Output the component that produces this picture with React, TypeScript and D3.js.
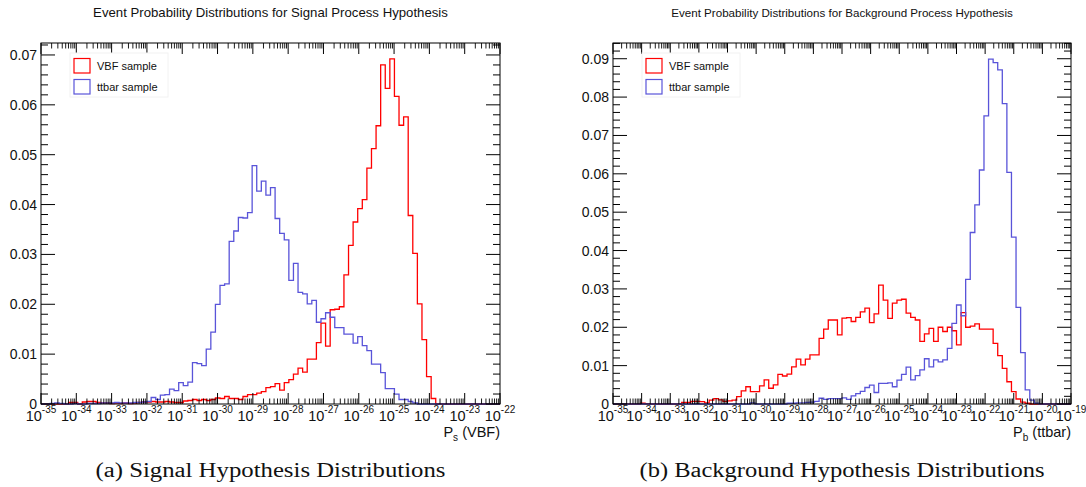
import React from 'react';
import * as d3 from 'd3';

const width = 1086;
const height = 487;
const frameTop = 43;
const frameBottom = 404;
const red = '#ff0000';
const blue = '#5954d9';
const sans = '"Liberation Sans", Arial, Helvetica, sans-serif';
const serif = '"Liberation Serif", "Times New Roman", serif';

// bin contents, 100 log-spaced bins across each x axis
const signalVbf = [
  0, 0, 0, 0, 0, 0, 0.0003, 0.0003, 0, 0.0004,
  0.0005, 0.0005, 0.0003, 0.0002, 0.0002, 0.0001, 0.0002, 0.0001, 0.0002, 0.0001,
  0.0002, 0.0003, 0.0004, 0.0004, 0.0005, 0.0004, 0.0004, 0.0005, 0.0004, 0.0003,
  0.0003, 0.0006, 0.0007, 0.0009, 0.0007, 0.0009, 0.0007, 0.0009, 0.0012, 0.0011,
  0.0015, 0.0011, 0.0011, 0.0009, 0.0015, 0.0019, 0.0019, 0.0022, 0.0025, 0.0033,
  0.0035, 0.0041, 0.0028, 0.0043, 0.0049, 0.006, 0.0072, 0.0064, 0.009, 0.009,
  0.0123, 0.0162, 0.0116, 0.0189, 0.019, 0.0195, 0.0259, 0.0318, 0.0365, 0.0392,
  0.041, 0.0473, 0.0512, 0.0558, 0.068, 0.0633, 0.0692, 0.0617, 0.0559, 0.0576,
  0.0378, 0.0302, 0.0201, 0.0129, 0.0055, 0.0011, 0, 0, 0, 0,
  0, 0, 0, 0, 0, 0, 0, 0, 0, 0,
];
const signalTtbar = [
  0, 0, 0.0001, 0.0002, 0.0001, 0, 0, 0.0001, 0, 0,
  0.0001, 0.0001, 0.0001, 0.0002, 0.0002, 0.0002, 0.0003, 0.0002, 0.0002, 0.0002,
  0.0003, 0.0003, 0.0004, 0.0005, 0.0013, 0.0009, 0.0018, 0.0019, 0.003, 0.0027,
  0.0043, 0.0037, 0.0044, 0.0083, 0.0081, 0.0077, 0.011, 0.0144, 0.02, 0.0238,
  0.0241, 0.0326, 0.0347, 0.0374, 0.0373, 0.0384, 0.0478, 0.0427, 0.0447, 0.0419,
  0.0434, 0.0372, 0.0342, 0.0329, 0.0248, 0.0282, 0.0224, 0.0221, 0.0201, 0.0208,
  0.0164, 0.0171, 0.0183, 0.0174, 0.0153, 0.0153, 0.014, 0.014, 0.0122, 0.0135,
  0.0117, 0.0107, 0.008, 0.008, 0.0063, 0.0031, 0.0031, 0.002, 0.0009, 0.0009,
  0.0005, 0.0002, 0, 0, 0, 0, 0, 0, 0, 0,
  0, 0, 0, 0, 0, 0, 0, 0, 0, 0,
];
const backgroundVbf = [
  0, 0, 0, 0, 0, 0, 0.0002, 0.0001, 0, 0,
  0, 0, 0, 0, 0, 0.0004, 0.0004, 0.0007, 0.0007, 0.0006,
  0.0003, 0.001, 0.0014, 0.0011, 0.0007, 0.0008, 0.001, 0.0019, 0.0034, 0.0045,
  0.0032, 0.0032, 0.0047, 0.0063, 0.0041, 0.005, 0.0077, 0.0073, 0.0078, 0.0097,
  0.0117, 0.0102, 0.0117, 0.0128, 0.0128, 0.0171, 0.0195, 0.0219, 0.0219, 0.018,
  0.0224, 0.0225, 0.0215, 0.0226, 0.024, 0.025, 0.0212, 0.0235, 0.031, 0.0271,
  0.0223, 0.0263, 0.0271, 0.0273, 0.0237, 0.0226, 0.0219, 0.0163, 0.0183, 0.0197,
  0.0163, 0.02, 0.0189, 0.02, 0.0191, 0.0154, 0.0238, 0.02, 0.0203, 0.0209,
  0.0195, 0.0195, 0.0195, 0.0158, 0.0126, 0.0093, 0.0058, 0.0032, 0.0013, 0.0005,
  0.0002, 0, 0, 0, 0, 0, 0, 0, 0, 0,
];
const backgroundTtbar = [
  0, 0, 0, 0, 0, 0, 0, 0, 0, 0,
  0, 0, 0, 0, 0, 0, 0, 0, 0, 0,
  0, 0, 0, 0, 0, 0, 0, 0, 0, 0,
  0.0003, 0, 0, 0, 0, 0, 0, 0, 0.0002, 0.0002,
  0.0003, 0.0003, 0.0004, 0.0005, 0.0007, 0.0015, 0.0012, 0.0014, 0.0014, 0.0014,
  0.0016, 0.0012, 0.0021, 0.0027, 0.0033, 0.0043, 0.0049, 0.003, 0.0054, 0.0054,
  0.0055, 0.0045, 0.0062, 0.0077, 0.0096, 0.0063, 0.0074, 0.0089, 0.0118, 0.0097,
  0.0115, 0.011, 0.0115, 0.0145, 0.021, 0.0258, 0.023, 0.0325, 0.0447, 0.0519,
  0.061, 0.0751, 0.0899, 0.089, 0.0871, 0.0783, 0.0604, 0.0435, 0.0252, 0.0134,
  0.0037, 0.001, 0.0002, 0, 0, 0, 0, 0, 0, 0,
];

const signalDecades = [-35, -34, -33, -32, -31, -30, -29, -28, -27, -26, -25, -24, -23, -22];
const backgroundDecades = [-35, -34, -33, -32, -31, -30, -29, -28, -27, -26, -25, -24, -23, -22, -21, -20, -19];
const signalYTicks = [0, 0.01, 0.02, 0.03, 0.04, 0.05, 0.06, 0.07];
const backgroundYTicks = [0, 0.01, 0.02, 0.03, 0.04, 0.05, 0.06, 0.07, 0.08, 0.09];
const legendLabels = ['VBF sample', 'ttbar sample'];

function Panel({ left, right, decades, yTicks, yMax, vbf, ttbar, title, titleSize, caption, captionWidth, sub, rest }) {
  const lo = decades[0];
  const hi = decades[decades.length - 1];
  const x = d3.scaleLog().domain([Math.pow(10, lo), Math.pow(10, hi)]).range([left, right]);
  const y = d3.scaleLinear().domain([0, yMax]).range([frameBottom, frameTop]);

  const nBins = vbf.length;
  const edges = d3.range(nBins + 1).map(i => Math.pow(10, lo + (hi - lo) * i / nBins));
  const line = d3.line().x(d => x(d[0])).y(d => y(d[1]));
  const histPath = vals => line(vals.flatMap((v, i) => [[edges[i], v], [edges[i + 1], v]]));

  // log minor ticks 2..9 inside every decade
  const minorX = [];
  decades.slice(0, -1).forEach(e => {
    for (let k = 2; k <= 9; k++) minorX.push(k * Math.pow(10, e));
  });
  const minorY = d3.range(0, yMax, 0.002).filter(v => !yTicks.some(t => Math.abs(t - v) < 1e-6));

  const cx = (left + right) / 2;

  return (
    <g>
      <text x={cx} y={17} textAnchor="middle" fontSize={titleSize} fontFamily={sans} fill="#111">{title}</text>

      <path d={histPath(vbf)} fill="none" stroke={red} strokeWidth={1.3} />
      <path d={histPath(ttbar)} fill="none" stroke={blue} strokeWidth={1.3} />

      <rect x={left} y={frameTop} width={right - left} height={frameBottom - frameTop} fill="none" stroke="#000" strokeWidth={1} />

      {/* x ticks, bottom and top */}
      {decades.map(e => {
        const xx = x(Math.pow(10, e));
        return (
          <g key={'M' + e}>
            <line x1={xx} x2={xx} y1={frameBottom} y2={frameBottom - 11} stroke="#000" />
            <line x1={xx} x2={xx} y1={frameTop} y2={frameTop + 11} stroke="#000" />
            <text x={xx} y={421} textAnchor="middle" fontSize={14.5} fontFamily={sans} fill="#111">
              10<tspan dy={-8} fontSize={10}>{e}</tspan>
            </text>
          </g>
        );
      })}
      {minorX.map((v, i) => {
        const xx = x(v);
        return (
          <g key={'m' + i}>
            <line x1={xx} x2={xx} y1={frameBottom} y2={frameBottom - 5.5} stroke="#000" strokeWidth={0.9} />
            <line x1={xx} x2={xx} y1={frameTop} y2={frameTop + 5.5} stroke="#000" strokeWidth={0.9} />
          </g>
        );
      })}

      {/* y ticks, left and right */}
      {yTicks.map(t => (
        <g key={'Y' + t}>
          <line x1={left} x2={left + 14} y1={y(t)} y2={y(t)} stroke="#000" />
          <line x1={right} x2={right - 14} y1={y(t)} y2={y(t)} stroke="#000" />
          <text x={left - 4} y={y(t) + 5} textAnchor="end" fontSize={14} fontFamily={sans} fill="#111">{t === 0 ? '0' : d3.format('.2f')(t)}</text>
        </g>
      ))}
      {minorY.map((t, i) => (
        <g key={'y' + i}>
          <line x1={left} x2={left + 7} y1={y(t)} y2={y(t)} stroke="#000" />
          <line x1={right} x2={right - 7} y1={y(t)} y2={y(t)} stroke="#000" />
        </g>
      ))}

      {/* axis title */}
      <text x={right} y={437} textAnchor="end" fontSize={14.5} fontFamily={sans} fill="#111">
        P<tspan dy={4} fontSize={10}>{sub}</tspan><tspan dy={-4}>{rest}</tspan>
      </text>

      {/* legend */}
      <rect x={left + 29} y={53} width={98} height={44} fill="#fff" stroke="#f2f2f2" />
      {[red, blue].map((c, i) => (
        <g key={c}>
          <rect x={left + 33} y={58.5 + i * 21} width={16} height={14.5} fill="none" stroke={c} strokeWidth={1.2} />
          <text x={left + 56} y={69.5 + i * 21} fontSize={11} fontFamily={sans} fill="#111">{legendLabels[i]}</text>
        </g>
      ))}

      <text x={cx} y={477} textAnchor="middle" fontSize={20} fontFamily={serif} fill="#111"
        textLength={captionWidth} lengthAdjust="spacingAndGlyphs">{caption}</text>
    </g>
  );
}

export default function App() {
  return (
    <svg width={width} height={height} style={{ position: 'absolute', left: 0, top: 0, background: '#fff' }}>
      <rect width={width} height={height} fill="#fff" />
      <Panel
        left={41} right={500}
        decades={signalDecades} yTicks={signalYTicks} yMax={0.0724}
        vbf={signalVbf} ttbar={signalTtbar}
        title="Event Probability Distributions for Signal Process Hypothesis" titleSize={13.2}
        caption="(a) Signal Hypothesis Distributions" captionWidth={350}
        sub="s" rest=" (VBF)"
      />
      <Panel
        left={613} right={1071}
        decades={backgroundDecades} yTicks={backgroundYTicks} yMax={0.0941}
        vbf={backgroundVbf} ttbar={backgroundTtbar}
        title="Event Probability Distributions for Background Process Hypothesis" titleSize={11.6}
        caption="(b) Background Hypothesis Distributions" captionWidth={405}
        sub="b" rest=" (ttbar)"
      />
    </svg>
  );
}
